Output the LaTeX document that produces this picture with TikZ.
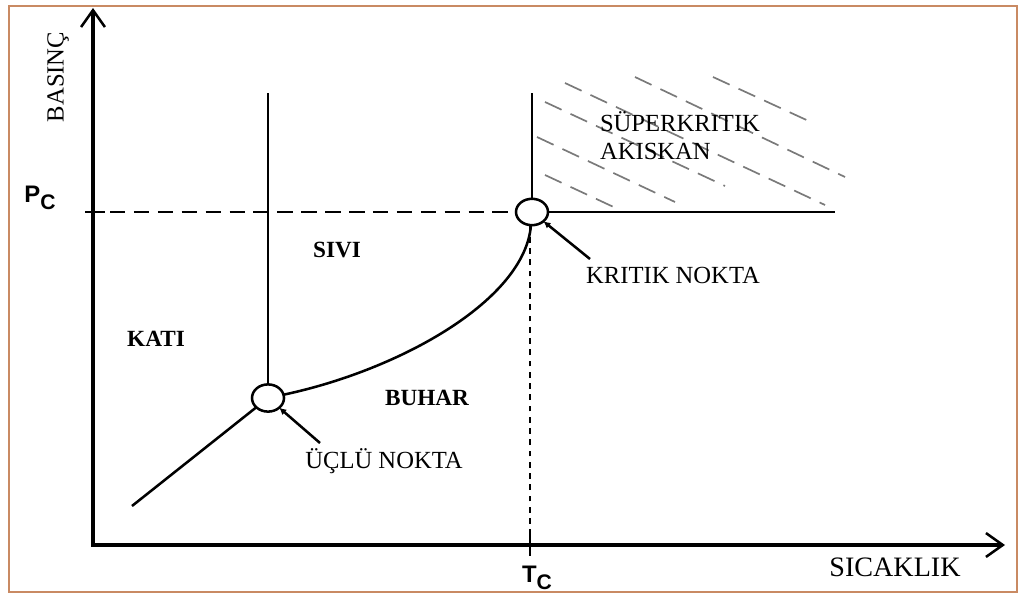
\documentclass[tikz,border=0pt]{standalone}
\usepackage{fontspec}
\setmainfont{Liberation Serif}
\setsansfont{Liberation Sans}
\usetikzlibrary{arrows.meta, shapes.geometric}
\definecolor{frameBrown}{HTML}{C98A63}
\definecolor{hatchGray}{HTML}{7A7A7A}
\newcommand{\critsym}[1]{{\sffamily\bfseries\fontsize{17}{17}\selectfont #1\raisebox{-0.55ex}{\fontsize{15}{15}\selectfont C}}}

\begin{document}
\begin{tikzpicture}[x=0.025cm, y=-0.025cm,
    axis/.style={line width=2.6pt, line join=miter,
      {Straight Barb[length=12pt, width=17pt, line width=1.8pt]}-{Straight Barb[length=12pt, width=17pt, line width=1.8pt]}},
    phase/.style={line width=1.8pt},
    point/.style={ellipse, draw, line width=1.8pt, fill=white, inner sep=0pt, outer sep=0pt},
    guide/.style={line width=1.2pt, dash pattern=on 11pt off 6pt},
    tcguide/.style={line width=2pt, dash pattern=on 4pt off 4pt},
    hatch/.style={hatchGray, line width=1.2pt, dash pattern=on 13pt off 7pt},
    pointer/.style={line width=1.8pt, -{Latex[length=5pt, width=5pt]}},
    phasetext/.style={font=\bfseries\fontsize{16.5}{18}\selectfont, inner sep=0pt},
    notetext/.style={font=\fontsize{17.5}{20}\selectfont, inner sep=0pt}]
  \useasboundingbox (0,0) rectangle (1023,597);
  \draw[frameBrown, line width=1.6pt] (9,6) rectangle (1017,592);

  % supercritical hatching
  \foreach \xa/\ya/\xb/\yb in {565/83/825/205, 635/77/845/177, 713/77/813/123,
                     545/102/725/186, 537/137/675/202, 545/175/620/210} {
    \draw[hatch] (\xa,\ya) -- (\xb,\yb);
  }

  % axes
  \coordinate (origin) at (93,545);
  \coordinate (pTip) at (93,8);
  \coordinate (tTip) at (1005,545);
  \draw[axis] (pTip) -- (origin) -- (tTip);
  \node[notetext, rotate=90] (pressure) at (58,77) {BASINÇ};
  \node[notetext, font=\fontsize{20}{22}\selectfont] (temperature) at (895,567) {SICAKLIK};

  % phase points
  \node[point, minimum width=0.8cm, minimum height=0.68cm] (triple) at (268,398) {};
  \node[point, minimum width=0.8cm, minimum height=0.66cm] (critical) at (532,212) {};

  % critical values
  \coordinate (pcTick) at (110,212);
  \coordinate (tcTick) at (530,535);
  \draw[line width=1.8pt] (85,212) -- (105,212);
  \draw[line width=1.8pt] (530,535) -- (530,556);
  \draw[guide] (pcTick) -- (critical);
  \draw[tcguide] (tcTick) -- (tcTick |- critical.south);
  \node (pcLabel) at (40,198) {\critsym{P}};
  \node (tcLabel) at (537,578) {\critsym{T}};

  % phase boundaries
  \coordinate (subStart) at (132,506);
  \coordinate (meltTop) at (268,93);
  \coordinate (critTop) at (532,93);
  \coordinate (critRight) at (835,212);
  \draw[phase] (subStart) -- (triple);
  \draw[phase] (triple) -- (meltTop);
  \draw[phase] (triple) .. controls (400,370) and (525,300) .. (critical);
  \draw[phase] (critical) -- (critTop);
  \draw[phase] (critical) -- (critRight);

  % regions
  \node[phasetext] (solid) at (156,339) {KATI};
  \node[phasetext] (liquid) at (337,250) {SIVI};
  \node[phasetext] (vapour) at (427,398) {BUHAR};
  \node[notetext, align=left] (superLabel) at (680,136) {SÜPERKRITIK\\AKISKAN};

  % point labels
  \node[notetext] (tripleLabel) at (384,461) {ÜÇLÜ NOKTA};
  \node[notetext] (critLabel) at (673,275) {KRITIK NOKTA};
  \coordinate (tripleTail) at (320,443);
  \coordinate (critTail) at (590,259);
  \draw[pointer] (tripleTail) -- (triple);
  \draw[pointer] (critTail) -- (critical);
\end{tikzpicture}
\end{document}
